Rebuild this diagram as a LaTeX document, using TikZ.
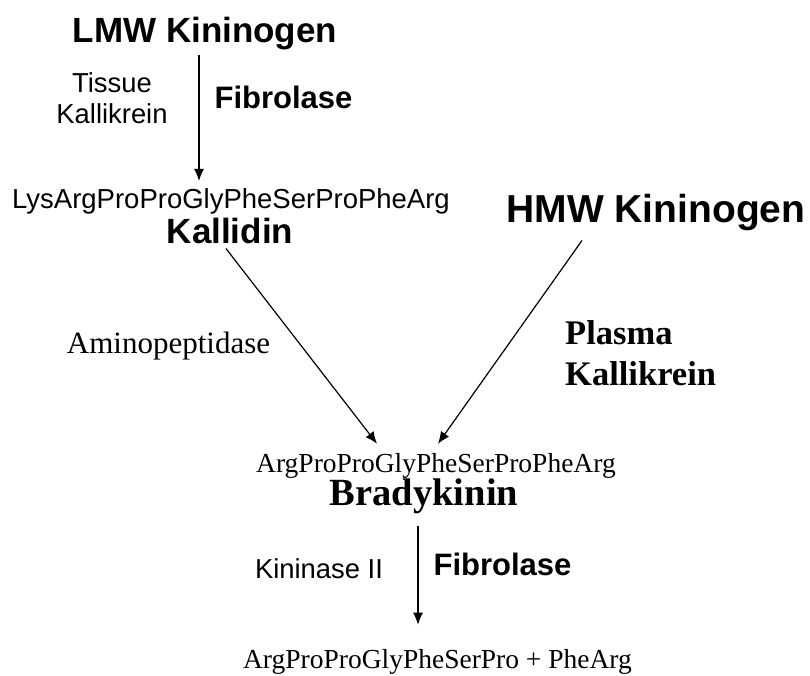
\documentclass[tikz,border=0pt]{standalone}
\usepackage{fontspec}
\setmainfont{Liberation Serif}
\setsansfont{Liberation Sans}
\usepackage{xcolor}
\usepackage{tikz}
\usetikzlibrary{arrows.meta,positioning}
\newcommand\fsz[1]{\fontsize{#1}{1.2\dimexpr#1pt\relax}\selectfont}

\begin{document}
\begin{tikzpicture}[x=1pt, y=-1pt, every node/.style={inner sep=0pt, anchor=base},
    heading/.style={font=\sffamily\bfseries\fsz{35}},
    enzyme/.style={font=\sffamily\fsz{27.4}, align=center},
    enzymebold/.style={font=\sffamily\bfseries\fsz{31}},
    peptide/.style={font=\rmfamily\fsz{27.5}},
    react/.style={-{Latex[length=12pt,width=10pt]}, line width=1.2pt}]
    \useasboundingbox (0,0) rectangle (810,675);
    \node[heading] (lmw) at (205,42) {LMW Kininogen};
    \node[enzyme] (tissue) at (112,123) {Tissue\\[-2pt]Kallikrein};
    \node[enzymebold] (fib1) at (283.5,108) {Fibrolase};
    \node[font=\sffamily\fsz{27.5}] (lysarg) at (231,208) {LysArgProProGlyPheSerProPheArg};
    \node[heading] (kallidin) at (230,243) {Kallidin};
    \node[heading, font=\sffamily\bfseries\fsz{39}] (hmw) at (656,222) {HMW Kininogen};
    \node[font=\rmfamily\fsz{31}] (amino) at (168.5,353) {Aminopeptidase};
    \node[font=\rmfamily\bfseries\fsz{34.5}, align=left, anchor=base west] (plasma) at (565,385) {Plasma\\[-0.5pt]Kallikrein};
    \node[peptide] (argpro) at (436,472) {ArgProProGlyPheSerProPheArg};
    \node[font=\rmfamily\bfseries\fsz{38.5}] (brady) at (424,505) {Bradykinin};
    \node[enzyme] (kininase) at (319,578) {Kininase II};
    \node[enzymebold] (fib2) at (502.5,575) {Fibrolase};
    \node[peptide] (products) at (437.5,668) {ArgProProGlyPheSerPro + PheArg};

    \draw[react] ([xshift=-6pt,yshift=-5pt]lmw.south) -- ([xshift=-32pt,yshift=7pt]lysarg.north);
    \draw[react] ([xshift=-4pt,yshift=-5pt]kallidin.south) -- ([xshift=-59pt,yshift=9pt]argpro.north);
    \draw[react] ([xshift=-74pt,yshift=-10pt]hmw.south) -- ([xshift=2pt,yshift=9pt]argpro.north);
    \draw[react] ([xshift=-6pt,yshift=-12pt]brady.south) -- ([xshift=-19.5pt,yshift=24pt]products.north);
\end{tikzpicture}
\end{document}
